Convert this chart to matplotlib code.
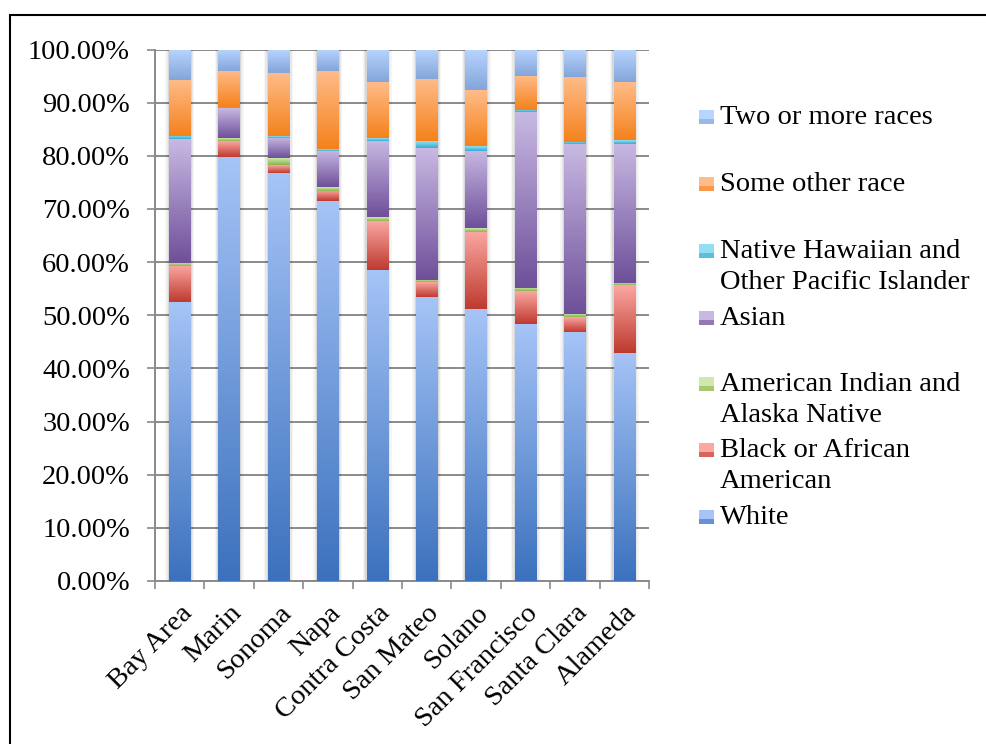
import numpy as np
import matplotlib
matplotlib.use("Agg")
import matplotlib.pyplot as plt
from matplotlib.colors import LinearSegmentedColormap
from matplotlib.patches import Rectangle
from matplotlib.ticker import PercentFormatter, FixedLocator

# counties (left to right)
counties = ["Bay Area", "Marin", "Sonoma", "Napa", "Contra Costa",
            "San Mateo", "Solano", "San Francisco", "Santa Clara", "Alameda"]

# shares in percent
white = [52.4, 79.8, 76.8, 71.5, 58.6, 53.4, 51.1, 48.4, 46.9, 42.9]
black = [6.8, 3.0, 1.5, 1.9, 9.2, 2.8, 14.6, 6.1, 2.7, 12.7]
aian = [0.7, 0.5, 1.3, 0.7, 0.7, 0.5, 0.7, 0.6, 0.7, 0.5]
asian = [23.2, 5.6, 3.8, 6.8, 14.3, 24.8, 14.5, 33.1, 31.9, 26.2]
nhpi = [0.6, 0.2, 0.3, 0.3, 0.5, 1.2, 0.9, 0.4, 0.4, 0.6]
other = [10.6, 6.8, 11.8, 14.7, 10.5, 11.7, 10.5, 6.5, 12.3, 10.9]
two_more = [5.7, 4.1, 4.5, 4.1, 6.2, 5.6, 7.7, 4.9, 5.1, 6.2]

series = [
    ("White", white, "#a6c4f7", "#3b71bd"),
    ("Black or African\nAmerican", black, "#fba7a2", "#be3a2e"),
    ("American Indian and\nAlaska Native", aian, "#d0e8ab", "#8ab44b"),
    ("Asian", asian, "#c8b9e3", "#6e4f99"),
    ("Native Hawaiian and\nOther Pacific Islander", nhpi, "#93dff1", "#36abd2"),
    ("Some other race", other, "#ffbc89", "#f4821c"),
    ("Two or more races", two_more, "#b8d5ff", "#84a5da"),
]

W, H = 986, 744
fig = plt.figure(figsize=(W / 100, H / 100), dpi=100)
plt.rcParams['font.family'] = ['Liberation Serif', 'DejaVu Serif']
fs = 20.5

ax = fig.add_axes([155 / W, 1 - 581 / H, (649 - 155) / W, (581 - 49.5) / H])

x = np.arange(len(counties))
bw0 = 0.43
total = np.sum([s[1] for s in series], axis=0)

# soft shadow around the bars
for extra, a in [(0.16, 0.04), (0.10, 0.05), (0.05, 0.07)]:
    ax.bar(x, total, bw0 + extra, color="#000000", alpha=a, zorder=2, linewidth=0)

bottom = np.zeros(len(counties))
grad = np.linspace(0, 1, 256).reshape(-1, 1)
for name, vals, top_c, bot_c in series:
    bars = ax.bar(x, vals, bw0, bottom=bottom, color=top_c, zorder=3, linewidth=0)
    cmap = LinearSegmentedColormap.from_list(name, [bot_c, top_c])
    for b in bars:
        bx, by, bw, bh = b.get_x(), b.get_y(), b.get_width(), b.get_height()
        ax.imshow(grad, extent=[bx, bx + bw, by, by + bh], origin="lower",
                  cmap=cmap, aspect="auto", zorder=4, interpolation="bilinear")
    bottom += np.array(vals)

ax.set_xlim(-0.5, len(counties) - 0.5)
ax.set_ylim(0, 100)

gc = "#8a8a8a"
ax.set_yticks(np.arange(0, 101, 10))
ax.yaxis.set_major_formatter(PercentFormatter(100, decimals=2))
ax.yaxis.grid(True, color=gc, linewidth=1.4, zorder=0)
ax.set_axisbelow(True)
ax.tick_params(axis="y", direction="out", length=6, width=1.2, color=gc,
               labelsize=fs, pad=12)

ax.set_xticks(x)
ax.set_xticklabels(counties, rotation=45, ha="right", rotation_mode="anchor", fontsize=fs)
ax.tick_params(axis="x", length=0, pad=14)
ax.xaxis.set_minor_locator(FixedLocator(np.arange(-0.5, len(counties), 1)))
ax.tick_params(axis="x", which="minor", direction="out", length=6, width=1.2, color=gc)

for s in ["top", "right"]:
    ax.spines[s].set_visible(False)
for s in ["left", "bottom"]:
    ax.spines[s].set_color(gc)
    ax.spines[s].set_linewidth(1.4)

# legend, drawn by hand to follow the Excel spacing
leg_y = [517, 450, 384, 318, 251, 184, 117]
for (name, vals, top_c, bot_c), ly in zip(series, leg_y):
    fig.patches.append(Rectangle((699 / W, 1 - (ly + 7) / H), 15 / W, 14 / H,
                                 transform=fig.transFigure, facecolor=top_c,
                                 edgecolor="none"))
    fig.patches.append(Rectangle((699 / W, 1 - (ly + 7) / H), 15 / W, 5 / H,
                                 transform=fig.transFigure, facecolor=bot_c,
                                 edgecolor="none", alpha=0.6))
    fig.text(720 / W, 1 - (ly - 12) / H, name, fontsize=fs, va="top", ha="left",
             linespacing=1.34)

# outer frame
fig.patches.append(Rectangle((10 / W, -0.1), 1.1, 1 - 15 / H + 0.1,
                             transform=fig.transFigure, facecolor="none",
                             edgecolor="black", linewidth=1.5))

fig.savefig("out.png", dpi=100)
